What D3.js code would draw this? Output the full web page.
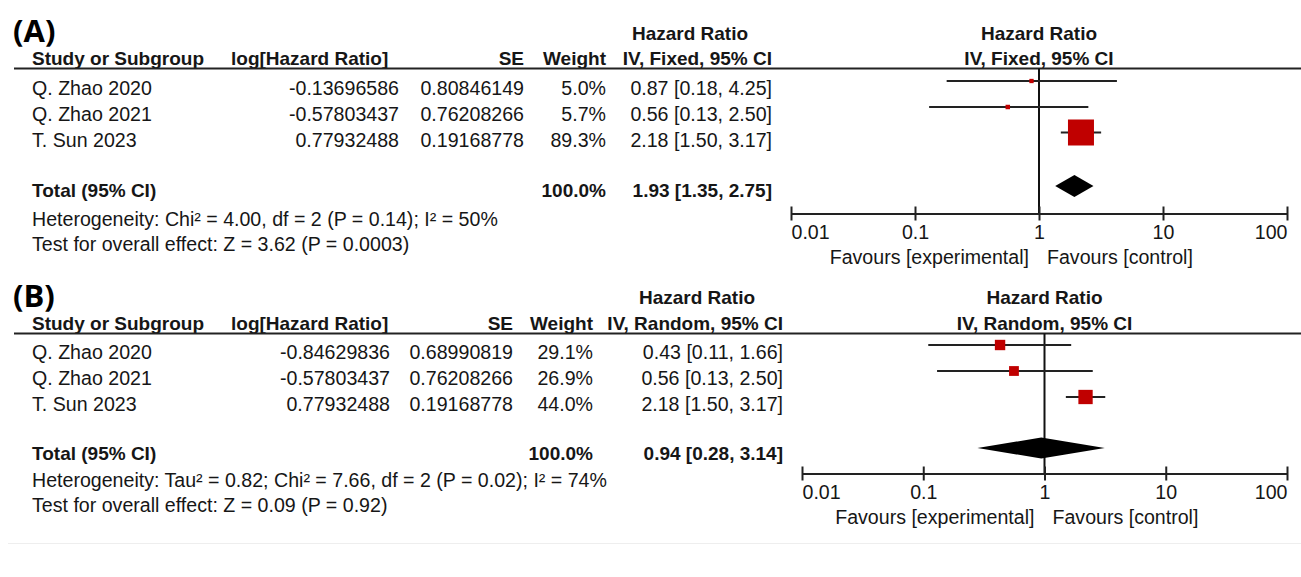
<!DOCTYPE html>
<html>
<head>
<meta charset="utf-8">
<script src="https://cdn.jsdelivr.net/npm/d3@7"></script>
<style>
  html, body { margin: 0; padding: 0; background: #fff; }
  svg { display: block; }
  text { font-family: "Liberation Sans", Arial, sans-serif; fill: #161616; }
</style>
</head>
<body>
<svg id="chart" width="1301" height="577"></svg>
<script>
// ---------------- data ----------------
const studies = ["Q. Zhao 2020", "Q. Zhao 2021", "T. Sun 2023"];

const logHR_A = [-0.13696586, -0.57803437, 0.77932488];
const se_A = [0.80846149, 0.76208266, 0.19168778];
const weight_A = [5.0, 5.7, 89.3];
const hr_A = [0.87, 0.56, 2.18];
const lo_A = [0.18, 0.13, 1.50];
const hi_A = [4.25, 2.50, 3.17];
const total_A = [1.93, 1.35, 2.75];
const het_A = "Heterogeneity: Chi\u00B2 = 4.00, df = 2 (P = 0.14); I\u00B2 = 50%";
const test_A = "Test for overall effect: Z = 3.62 (P = 0.0003)";

const logHR_B = [-0.84629836, -0.57803437, 0.77932488];
const se_B = [0.68990819, 0.76208266, 0.19168778];
const weight_B = [29.1, 26.9, 44.0];
const hr_B = [0.43, 0.56, 2.18];
const lo_B = [0.11, 0.13, 1.50];
const hi_B = [1.66, 2.50, 3.17];
const total_B = [0.94, 0.28, 3.14];
const het_B = "Heterogeneity: Tau\u00B2 = 0.82; Chi\u00B2 = 7.66, df = 2 (P = 0.02); I\u00B2 = 74%";
const test_B = "Test for overall effect: Z = 0.09 (P = 0.92)";

const tickValues = [0.01, 0.1, 1, 10, 100];
const tickLabels = ["0.01", "0.1", "1", "10", "100"];
const colHeaders = ["Study or Subgroup", "log[Hazard Ratio]", "SE", "Weight"];

// ---------------- layout ----------------
const svg = d3.select("#chart");
const RED = "#c00000";
const FSB = 19;     // bold header size
const FS = 19.6;    // regular text size

// faint bottom rule
svg.append("line").attr("x1", 8).attr("x2", 1301).attr("y1", 543.5).attr("y2", 543.5)
  .attr("stroke", "#eeeeee").attr("stroke-width", 1);

const panels = [
  {
    tag: "(A)", method: "IV, Fixed, 95% CI",
    logHR: logHR_A, se: se_A, weight: weight_A, hr: hr_A, lo: lo_A, hi: hi_A, total: total_A,
    het: het_A, test: test_A,
    tagY: 42, hrHeadY: 40, headY: 65, lineY: 68.5,
    rowY: [95, 121, 146.5], markOff: 14, totalY: 197, diamOff: 11, diamH: 22,
    hetY: 226, testY: 251, axisY: 213.5, tickY: 239, favY: 264,
    xStudy: 32, xLogHead: 231, xLog: 399, xSE: 524, xW: 606, xCI: 772, xHR: 690,
    plot0: 791, plot1: 1287, sizeRange: [4.3, 26]
  },
  {
    tag: "(B)", method: "IV, Random, 95% CI",
    logHR: logHR_B, se: se_B, weight: weight_B, hr: hr_B, lo: lo_B, hi: hi_B, total: total_B,
    het: het_B, test: test_B,
    tagY: 307, hrHeadY: 304, headY: 330, lineY: 333.5,
    rowY: [359, 385, 411], markOff: 14, totalY: 460, diamOff: 12, diamH: 21,
    hetY: 487, testY: 512, axisY: 473.5, tickY: 499, favY: 524,
    xStudy: 32, xLogHead: 231, xLog: 390, xSE: 513, xW: 593, xCI: 783, xHR: 697,
    plot0: 802, plot1: 1287, sizeRange: [9.8, 14.3]
  }
];

panels.forEach(p => {
  const g = svg.append("g");
  const x = d3.scaleLog().domain([tickValues[0], tickValues[tickValues.length - 1]]).range([p.plot0, p.plot1]);
  const size = d3.scaleLinear().domain(d3.extent(p.weight)).range(p.sizeRange);
  const cx1 = x(1);

  // panel tag
  g.append("text").attr("x", 13).attr("y", p.tagY).text(p.tag)
    .style("font-family", "'Open Sans', 'Liberation Sans', sans-serif")
    .style("font-weight", "bold").style("font-size", "31px").style("fill", "#000");

  const bold = (sel) => sel.style("font-weight", "bold").style("font-size", FSB + "px");
  const reg = (sel) => sel.style("font-size", FS + "px");

  // header row 1
  bold(g.append("text").attr("x", p.xHR).attr("y", p.hrHeadY).attr("text-anchor", "middle").text("Hazard Ratio"));
  bold(g.append("text").attr("x", cx1).attr("y", p.hrHeadY).attr("text-anchor", "middle").text("Hazard Ratio"));

  // header row 2
  bold(g.append("text").attr("x", p.xStudy).attr("y", p.headY).text(colHeaders[0]));
  bold(g.append("text").attr("x", p.xLogHead).attr("y", p.headY).text(colHeaders[1]));
  bold(g.append("text").attr("x", p.xSE).attr("y", p.headY).attr("text-anchor", "end").text(colHeaders[2]));
  bold(g.append("text").attr("x", p.xW).attr("y", p.headY).attr("text-anchor", "end").text(colHeaders[3]));
  bold(g.append("text").attr("x", p.xCI).attr("y", p.headY).attr("text-anchor", "end").text(p.method));
  bold(g.append("text").attr("x", cx1).attr("y", p.headY).attr("text-anchor", "middle").text(p.method));

  // header rule
  g.append("line").attr("x1", 14).attr("x2", 1301).attr("y1", p.lineY).attr("y2", p.lineY)
    .attr("stroke", "#222").attr("stroke-width", 2);

  // study rows (text)
  studies.forEach((s, i) => {
    const y = p.rowY[i];
    reg(g.append("text").attr("x", p.xStudy).attr("y", y).text(s));
    reg(g.append("text").attr("x", p.xLog).attr("y", y).attr("text-anchor", "end").text(p.logHR[i].toFixed(8)));
    reg(g.append("text").attr("x", p.xSE).attr("y", y).attr("text-anchor", "end").text(p.se[i].toFixed(8)));
    reg(g.append("text").attr("x", p.xW).attr("y", y).attr("text-anchor", "end").text(p.weight[i].toFixed(1) + "%"));
    reg(g.append("text").attr("x", p.xCI).attr("y", y).attr("text-anchor", "end")
      .text(`${p.hr[i].toFixed(2)} [${p.lo[i].toFixed(2)}, ${p.hi[i].toFixed(2)}]`));
  });

  // total row
  bold(g.append("text").attr("x", p.xStudy).attr("y", p.totalY).text("Total (95% CI)"));
  bold(g.append("text").attr("x", p.xW).attr("y", p.totalY).attr("text-anchor", "end")
    .text(d3.sum(p.weight).toFixed(1) + "%"));
  bold(g.append("text").attr("x", p.xCI).attr("y", p.totalY).attr("text-anchor", "end")
    .text(`${p.total[0].toFixed(2)} [${p.total[1].toFixed(2)}, ${p.total[2].toFixed(2)}]`));

  reg(g.append("text").attr("x", p.xStudy).attr("y", p.hetY).text(p.het));
  reg(g.append("text").attr("x", p.xStudy).attr("y", p.testY).text(p.test));

  // vertical line of no effect
  g.append("line").attr("x1", cx1).attr("x2", cx1).attr("y1", p.lineY).attr("y2", p.axisY)
    .attr("stroke", "#111").attr("stroke-width", 2);

  // whiskers + boxes
  studies.forEach((s, i) => {
    const y = p.rowY[i] - p.markOff;
    g.append("line").attr("x1", x(p.lo[i])).attr("x2", x(p.hi[i])).attr("y1", y).attr("y2", y)
      .attr("stroke", "#222").attr("stroke-width", 2);
    const sz = size(p.weight[i]);
    g.append("rect").attr("x", x(p.hr[i]) - sz / 2).attr("y", y - sz / 2)
      .attr("width", sz).attr("height", sz).attr("fill", RED);
  });

  // diamond
  const dy = p.totalY - p.diamOff, h = p.diamH / 2;
  g.append("path")
    .attr("d", `M${x(p.total[1])},${dy} L${x(p.total[0])},${dy - h} L${x(p.total[2])},${dy} L${x(p.total[0])},${dy + h} Z`)
    .attr("fill", "#000");

  // axis
  const axis = d3.axisBottom(x).tickValues(tickValues).tickFormat((d, i) => tickLabels[i])
    .tickSizeInner(7).tickSizeOuter(0);
  const ag = g.append("g").attr("transform", `translate(0,${p.axisY})`).call(axis);
  ag.select(".domain").attr("stroke", "#222").attr("stroke-width", 2);
  ag.selectAll(".tick line").attr("y1", -7).attr("y2", 7).attr("stroke", "#222").attr("stroke-width", 2);
  ag.selectAll(".tick text")
    .attr("y", p.tickY - p.axisY).attr("dy", 0)
    .style("font-size", FS + "px").style("font-family", "'Liberation Sans', Arial, sans-serif")
    .attr("fill", "#161616")
    .attr("text-anchor", (d, i) => i === 0 ? "start" : (i === tickValues.length - 1 ? "end" : "middle"));

  // favours labels
  reg(g.append("text").attr("x", cx1 - 10).attr("y", p.favY).attr("text-anchor", "end").text("Favours [experimental]"));
  reg(g.append("text").attr("x", cx1 + 8).attr("y", p.favY).attr("text-anchor", "start").text("Favours [control]"));
});
</script>
</body>
</html>
